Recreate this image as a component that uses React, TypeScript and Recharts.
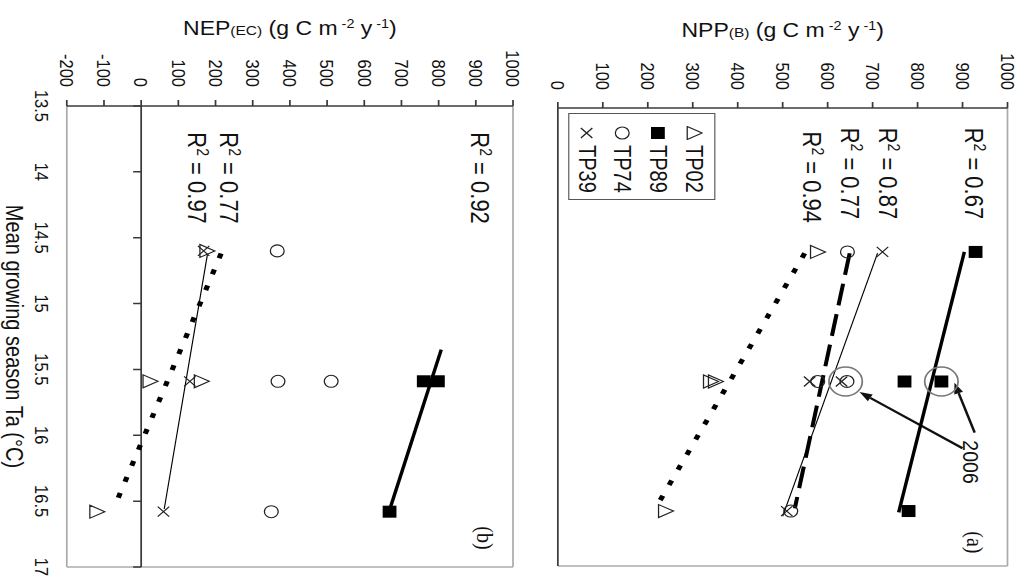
import React from 'react';
import { ScatterChart, Scatter, XAxis, YAxis, ReferenceLine, Legend } from 'recharts';

// the figure is drawn upright (two stacked panels) and then turned 90deg clockwise;
// the scan is also a bit wider than tall, so stretch along the turned axis
const STRETCH = 1.15;
const SANS = '"Liberation Sans", Arial, Helvetica, sans-serif';
const SERIF = '"Liberation Serif", "Times New Roman", serif';
const INK = '#111';
const AXIS = '#3a3a3a';
const FRAME = '#ababab';

const tempTicks = [13.5, 14, 14.5, 15, 15.5, 16, 16.5, 17];
const nppTicks = [0, 100, 200, 300, 400, 500, 600, 700, 800, 900, 1000];
const nepTicks = [-200, -100, 0, 100, 200, 300, 400, 500, 600, 700, 800, 900, 1000];

const sites = ['TP02', 'TP89', 'TP74', 'TP39'];
const siteMark: Record<string, string> = { TP02: 'tri', TP89: 'sq', TP74: 'circ', TP39: 'x' };

// (a) biometric NPP, g C m-2 y-1
const nppTP02 = [{ t: 14.6, v: 576 }, { t: 15.59, v: 338 }, { t: 15.59, v: 349 }, { t: 16.58, v: 238 }];
const nppTP89 = [{ t: 14.6, v: 929 }, { t: 15.59, v: 771 }, { t: 15.59, v: 853 }, { t: 16.58, v: 780 }];
const nppTP74 = [{ t: 14.6, v: 644 }, { t: 15.59, v: 578 }, { t: 15.59, v: 643 }, { t: 16.58, v: 518 }];
const nppTP39 = [{ t: 14.6, v: 722 }, { t: 15.59, v: 560 }, { t: 15.59, v: 631 }, { t: 16.58, v: 509 }];

const nppFitTP89 = [{ t: 14.6, v: 904 }, { t: 16.59, v: 758 }];
const nppFitTP39 = [{ t: 14.61, v: 711 }, { t: 16.62, v: 500 }];
const nppFitTP74 = [{ t: 14.61, v: 649 }, { t: 16.56, v: 527 }];
const nppFitTP02 = [{ t: 14.61, v: 549 }, { t: 16.53, v: 222 }];

// (b) eddy covariance NEP
const nepTP02 = [{ t: 14.6, v: 175 }, { t: 15.59, v: 22 }, { t: 15.59, v: 160 }, { t: 16.58, v: -121 }];
const nepTP89 = [{ t: 15.59, v: 760 }, { t: 15.59, v: 798 }, { t: 16.58, v: 668 }];
const nepTP74 = [{ t: 14.6, v: 366 }, { t: 15.59, v: 368 }, { t: 15.59, v: 511 }, { t: 16.58, v: 350 }];
const nepTP39 = [{ t: 14.6, v: 168 }, { t: 15.59, v: 131 }, { t: 16.58, v: 60 }];

const nepFitTP89 = [{ t: 15.35, v: 807 }, { t: 16.55, v: 670 }];
const nepFitTP02 = [{ t: 14.62, v: 215 }, { t: 16.51, v: -67 }];
const nepFitTP39 = [{ t: 14.63, v: 178 }, { t: 16.56, v: 62 }];

const nppR2 = [
  { t: 13.65, v: 925, text: '0.67' },
  { t: 13.65, v: 734, text: '0.87' },
  { t: 13.65, v: 651, text: '0.77' },
  { t: 13.68, v: 566, text: '0.94' },
];
const nepR2 = [
  { t: 13.7, v: 911, text: '0.92' },
  { t: 13.7, v: 236, text: '0.77' },
  { t: 13.7, v: 150, text: '0.97' },
];

const nppTag = [{ t: 16.82, v: 927, text: '(a)' }];
const nepTag = [{ t: 16.78, v: 923, text: '(b)' }];

const note2006 = [{ t: 16.04, v: 920, text: '2006' }];
const rings2006 = [{ t: 15.59, v: 853 }, { t: 15.59, v: 640 }];
const arrows2006 = [
  [{ x: 15.98, y: 927 }, { x: 15.6, y: 882 }],
  [{ x: 16.1, y: 900 }, { x: 15.67, y: 671 }],
];

const zeroTicks = tempTicks.map((t) => ({ t, v: 0 }));

function Mark({ kind, cx, cy }: { kind: string; cx: number; cy: number }) {
  if (kind === 'sq') return <rect x={cx - 6} y={cy - 6} width={12} height={12} fill="#000" />;
  if (kind === 'circ') return <circle cx={cx} cy={cy} r={6} fill="none" stroke="#222" strokeWidth={1.1} />;
  if (kind === 'x')
    return (
      <path
        d={`M${cx - 5},${cy - 5}L${cx + 5},${cy + 5}M${cx - 5},${cy + 5}L${cx + 5},${cy - 5}`}
        stroke="#222"
        strokeWidth={1.1}
      />
    );
  return (
    <polygon
      points={`${cx},${cy - 7.5} ${cx - 6.5},${cy + 5.5} ${cx + 6.5},${cy + 5.5}`}
      fill="none"
      stroke="#222"
      strokeWidth={1.1}
    />
  );
}

const markShape = (kind: string) => (p: any) => <Mark kind={kind} cx={p.cx} cy={p.cy} />;
const noDot = () => <g />;

const r2Shape = (p: any) => (
  <text x={p.cx} y={p.cy} dy="0.36em" fontFamily={SANS} fontSize={22} fill={INK}>
    R
    <tspan fontSize={14} dy={-8}>
      2
    </tspan>
    <tspan dy={8}>{' = ' + p.payload.text}</tspan>
  </text>
);

const tagShape = (p: any) => (
  <text x={p.cx} y={p.cy} dy="0.34em" textAnchor="middle" fontFamily={SERIF} fontSize={20} fill={INK}>
    {p.payload.text}
  </text>
);

const noteShape = (p: any) => (
  <text x={p.cx} y={p.cy} dy="0.36em" fontFamily={SANS} fontSize={19.5} fill={INK}>
    {p.payload.text}
  </text>
);

const ringShape = (p: any) => <circle cx={p.cx} cy={p.cy} r={14.5} fill="none" stroke="#777" strokeWidth={1.5} />;

const zeroTickShape = (p: any) => <line x1={p.cx} y1={p.cy} x2={p.cx} y2={p.cy + 7} stroke={AXIS} strokeWidth={1.5} />;

const arrowShape = (p: any) => {
  const { x1, y1, x2, y2 } = p;
  if ([x1, y1, x2, y2].some((n) => typeof n !== 'number')) return <g />;
  const a = Math.atan2(y2 - y1, x2 - x1);
  const len = 11;
  const half = 4;
  const bx = x2 - len * Math.cos(a);
  const by = y2 - len * Math.sin(a);
  const pts = `${x2},${y2} ${bx - half * Math.sin(a)},${by + half * Math.cos(a)} ${bx + half * Math.sin(a)},${by - half * Math.cos(a)}`;
  return (
    <g>
      <line x1={x1} y1={y1} x2={bx} y2={by} stroke={INK} strokeWidth={2.2} />
      <polygon points={pts} fill={INK} />
    </g>
  );
};

const valueTitle = (head: string, sub: string, base: number) => (p: any) => {
  const vb = p && p.viewBox;
  if (!vb) return null;
  const x = vb.x + base;
  const y = vb.y + vb.height / 2;
  return (
    <text
      x={x}
      y={y}
      transform={`rotate(-90 ${x} ${y})`}
      textAnchor="middle"
      fontFamily={SANS}
      fontSize={20}
      fill={INK}
    >
      {head}
      <tspan fontSize={13.5}>{sub}</tspan>
      <tspan>{' (g C m'}</tspan>
      <tspan fontSize={12.5} dy={-7}>
        {' -2'}
      </tspan>
      <tspan dy={7}>{' y'}</tspan>
      <tspan fontSize={12.5} dy={-7}>
        {' -1'}
      </tspan>
      <tspan dy={7}>)</tspan>
    </text>
  );
};

const tempTitle = (p: any) => {
  const vb = p && p.viewBox;
  if (!vb) return null;
  return (
    <text
      x={vb.x + vb.width / 2}
      y={vb.y + vb.height - 5}
      textAnchor="middle"
      fontFamily={SANS}
      fontSize={20}
      fill={INK}
    >
      Mean growing season Ta (°C)
    </text>
  );
};

const renderLegend = (props: any) => {
  const items = (props.payload || [])
    .filter((e: any) => sites.includes(e.value))
    .sort((a: any, b: any) => sites.indexOf(a.value) - sites.indexOf(b.value));
  return (
    <div
      style={{
        boxSizing: 'border-box',
        width: 87,
        height: 128,
        border: '1.5px solid #555',
        background: '#fff',
        paddingTop: 3,
        fontFamily: SANS,
        fontSize: 20,
        color: INK,
      }}
    >
      {items.map((e: any) => (
        <div key={e.value} style={{ display: 'flex', alignItems: 'center', height: 30.8 }}>
          <svg width={14} height={16} style={{ marginLeft: 12, marginRight: 5 }}>
            <Mark kind={siteMark[e.value]} cx={7} cy={8} />
          </svg>
          <span style={{ lineHeight: 1 }}>{e.value}</span>
        </div>
      ))}
    </div>
  );
};

const tickFont = { fill: INK, fontSize: 16.5, fontFamily: SANS };

function NppPanel() {
  return (
    <ScatterChart width={585} height={420} margin={{ top: 10, right: 19, bottom: 7, left: 0 }}>
      <XAxis
        type="number"
        dataKey="t"
        domain={[13.5, 17]}
        ticks={tempTicks}
        height={12}
        tick={false}
        tickSize={4.5}
        axisLine={{ stroke: AXIS, strokeWidth: 1.5 }}
        tickLine={{ stroke: AXIS, strokeWidth: 1.5 }}
      />
      <YAxis
        type="number"
        dataKey="v"
        domain={[0, 1000]}
        ticks={nppTicks}
        width={108}
        tickSize={6}
        tickMargin={12}
        tick={tickFont}
        axisLine={{ stroke: AXIS, strokeWidth: 1.5 }}
        tickLine={{ stroke: AXIS, strokeWidth: 1.5 }}
        label={valueTitle('NPP', '(B)', 37)}
      />
      <ReferenceLine y={1000} stroke={FRAME} strokeWidth={1.5} />
      <ReferenceLine x={17} stroke={FRAME} strokeWidth={1.5} />
      <Legend
        content={renderLegend}
        layout="vertical"
        align="center"
        verticalAlign="middle"
        wrapperStyle={{ left: 113, top: 264, width: 87, height: 128 }}
      />

      <Scatter name="fit TP89" data={nppFitTP89} line={{ stroke: '#000', strokeWidth: 3 }} shape={noDot} legendType="none" isAnimationActive={false} />
      <Scatter name="fit TP39" data={nppFitTP39} line={{ stroke: '#000', strokeWidth: 1 }} shape={noDot} legendType="none" isAnimationActive={false} />
      <Scatter name="fit TP74" data={nppFitTP74} line={{ stroke: '#000', strokeWidth: 3.5, strokeDasharray: '22 9' }} shape={noDot} legendType="none" isAnimationActive={false} />
      <Scatter name="fit TP02" data={nppFitTP02} line={{ stroke: '#000', strokeWidth: 4.5, strokeDasharray: '5 12' }} shape={noDot} legendType="none" isAnimationActive={false} />

      <Scatter name="TP02" data={nppTP02} fill="#222" shape={markShape('tri')} isAnimationActive={false} />
      <Scatter name="TP89" data={nppTP89} fill="#000" shape={markShape('sq')} isAnimationActive={false} />
      <Scatter name="TP74" data={nppTP74} fill="#222" shape={markShape('circ')} isAnimationActive={false} />
      <Scatter name="TP39" data={nppTP39} fill="#222" shape={markShape('x')} isAnimationActive={false} />

      <Scatter name="rings" data={rings2006} shape={ringShape} legendType="none" isAnimationActive={false} />
      {arrows2006.map((seg, i) => (
        <ReferenceLine key={i} segment={seg} shape={arrowShape} ifOverflow="visible" />
      ))}
      <Scatter name="note" data={note2006} shape={noteShape} legendType="none" isAnimationActive={false} />
      <Scatter name="r2" data={nppR2} shape={r2Shape} legendType="none" isAnimationActive={false} />
      <Scatter name="tag" data={nppTag} shape={tagShape} legendType="none" isAnimationActive={false} />
    </ScatterChart>
  );
}

function NepPanel() {
  return (
    <ScatterChart width={585} height={466} margin={{ top: 20, right: 18, bottom: 0, left: 0 }}>
      <XAxis
        type="number"
        dataKey="t"
        domain={[13.5, 17]}
        ticks={tempTicks}
        height={58}
        axisLine={false}
        tickLine={false}
        tickMargin={10}
        tick={tickFont}
        label={tempTitle}
      />
      <YAxis
        type="number"
        dataKey="v"
        domain={[-200, 1000]}
        ticks={nepTicks}
        width={106}
        tickSize={6}
        tickMargin={13}
        tick={tickFont}
        axisLine={{ stroke: AXIS, strokeWidth: 1.5 }}
        tickLine={{ stroke: AXIS, strokeWidth: 1.5 }}
        label={valueTitle('NEP', '(EC)', 35)}
      />
      <ReferenceLine y={1000} stroke={FRAME} strokeWidth={1.5} />
      <ReferenceLine y={-200} stroke={FRAME} strokeWidth={1.5} />
      <ReferenceLine x={17} stroke={FRAME} strokeWidth={1.5} />
      <ReferenceLine y={0} stroke={AXIS} strokeWidth={1.5} />
      <Scatter name="zero ticks" data={zeroTicks} shape={zeroTickShape} legendType="none" isAnimationActive={false} />

      <Scatter name="fit TP89" data={nepFitTP89} line={{ stroke: '#000', strokeWidth: 3 }} shape={noDot} legendType="none" isAnimationActive={false} />
      <Scatter name="fit TP02" data={nepFitTP02} line={{ stroke: '#000', strokeWidth: 4.5, strokeDasharray: '5 12' }} shape={noDot} legendType="none" isAnimationActive={false} />
      <Scatter name="fit TP39" data={nepFitTP39} line={{ stroke: '#000', strokeWidth: 1 }} shape={noDot} legendType="none" isAnimationActive={false} />

      <Scatter name="TP02" data={nepTP02} shape={markShape('tri')} isAnimationActive={false} />
      <Scatter name="TP89" data={nepTP89} shape={markShape('sq')} isAnimationActive={false} />
      <Scatter name="TP74" data={nepTP74} shape={markShape('circ')} isAnimationActive={false} />
      <Scatter name="TP39" data={nepTP39} shape={markShape('x')} isAnimationActive={false} />

      <Scatter name="r2" data={nepR2} shape={r2Shape} legendType="none" isAnimationActive={false} />
      <Scatter name="tag" data={nepTag} shape={tagShape} legendType="none" isAnimationActive={false} />
    </ScatterChart>
  );
}

export default function App() {
  return (
    <div style={{ position: 'fixed', left: 0, top: 0, width: 1019, height: 585, overflow: 'hidden', background: '#fff' }}>
      <div
        style={{
          position: 'absolute',
          left: 0,
          top: 0,
          width: 585,
          height: 886,
          transformOrigin: '0 0',
          transform: `translate(1019px, 0px) rotate(90deg) scale(1, ${STRETCH})`,
        }}
      >
        <div style={{ position: 'absolute', left: 0, top: 0 }}>
          <NppPanel />
        </div>
        <div style={{ position: 'absolute', left: 0, top: 420 }}>
          <NepPanel />
        </div>
      </div>
    </div>
  );
}
